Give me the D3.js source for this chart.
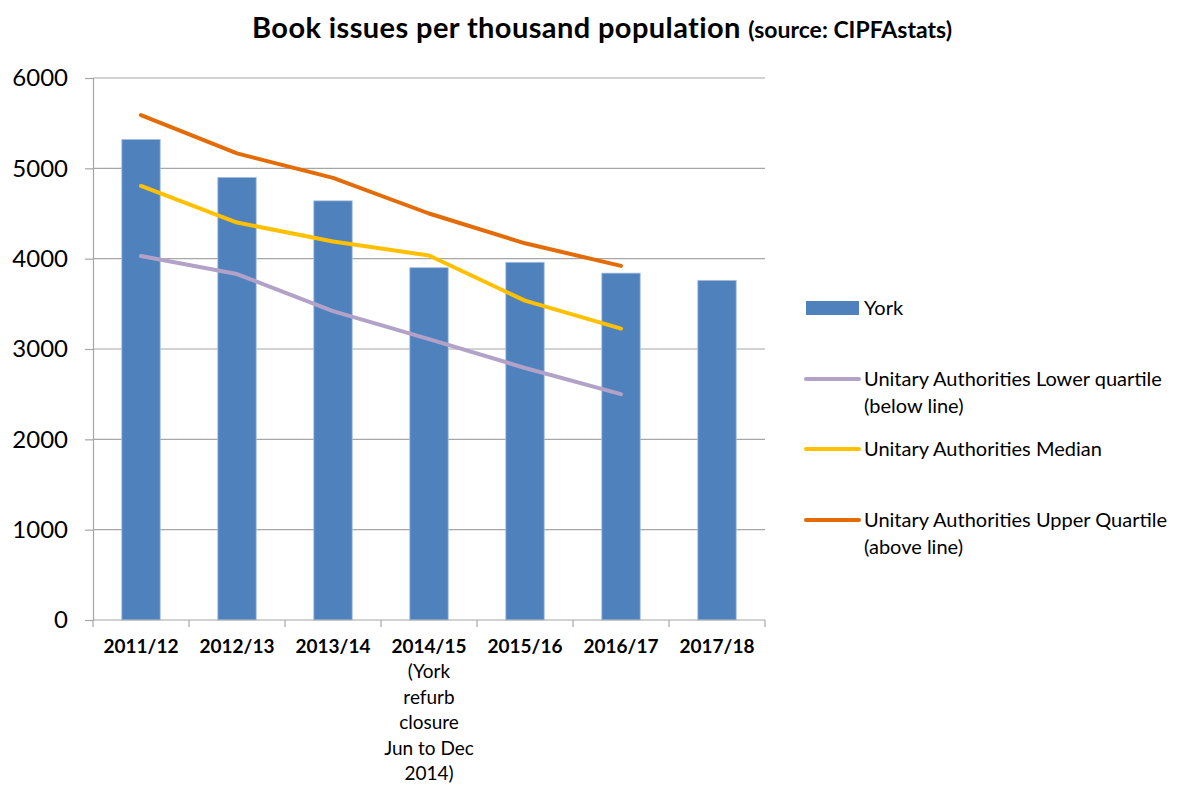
<!DOCTYPE html>
<html>
<head>
<meta charset="utf-8">
<script src="https://cdn.jsdelivr.net/npm/d3@7"></script>
<style>
  body { margin: 0; background: #fff; }
  svg { display: block; font-family: Lato, "Open Sans", sans-serif; }
</style>
</head>
<body>
<svg id="chart" width="1180" height="785"></svg>
<script>
const categories = ["2011/12", "2012/13", "2013/14", "2014/15", "2015/16", "2016/17", "2017/18"];
const catLabels = [
  ["2011/12"], ["2012/13"], ["2013/14"],
  ["2014/15", "(York", "refurb", "closure", "Jun to Dec", "2014)"],
  ["2015/16"], ["2016/17"], ["2017/18"]
];
const york = [5320, 4900, 4640, 3900, 3960, 3840, 3760];
const lowerQuartile = [4030, 3830, 3420, 3110, 2790, 2500];
const median = [4805, 4400, 4190, 4035, 3535, 3225];
const upperQuartile = [5590, 5165, 4895, 4500, 4170, 3920];
const yTicks = [0, 1000, 2000, 3000, 4000, 5000, 6000];

const svg = d3.select("#chart");
const margin = { left: 93, right: 765, top: 78, bottom: 620 };

const x = d3.scaleBand().domain(categories).range([margin.left, margin.right]);
const y = d3.scaleLinear().domain([0, 6000]).range([margin.bottom, margin.top]);

// title
const title = svg.append("text")
  .attr("x", 602).attr("y", 38)
  .attr("text-anchor", "middle")
  .style("font-weight", "bold");
title.append("tspan").text("Book issues per thousand population ").style("font-size", "29px").style("letter-spacing", "0.4px");
title.append("tspan").text("(source: CIPFAstats)").style("font-size", "23px");

// gridlines
svg.append("g")
  .selectAll("line")
  .data(yTicks.slice(1))
  .join("line")
  .attr("x1", margin.left).attr("x2", margin.right)
  .attr("y1", d => y(d)).attr("y2", d => y(d))
  .attr("stroke", "#a6a6a6").attr("stroke-width", 1.2);

// y axis
const yAxis = svg.append("g")
  .attr("transform", `translate(${margin.left},0)`)
  .call(d3.axisLeft(y).tickValues(yTicks).tickSize(8).tickPadding(17).tickFormat(d3.format("d")));
yAxis.selectAll("line, path").attr("stroke", "#a6a6a6").attr("stroke-width", 1.2);
yAxis.selectAll("text").style("font-size", "24px").style("font-family", "Lato, sans-serif").attr("fill", "#000");

// bars
const barW = x.bandwidth() * 0.4;
svg.append("g")
  .selectAll("rect")
  .data(york)
  .join("rect")
  .attr("x", (d, i) => x(categories[i]) + x.bandwidth() / 2 - barW / 2)
  .attr("y", d => y(d))
  .attr("width", barW)
  .attr("height", d => y(0) - y(d))
  .attr("fill", "#4f81bd")
  .attr("stroke", "#a8c0e0")
  .attr("stroke-width", 0.8);

// x axis
const xAxis = svg.append("g")
  .attr("transform", `translate(0,${margin.bottom})`);
xAxis.append("line")
  .attr("x1", margin.left).attr("x2", margin.right)
  .attr("stroke", "#a6a6a6").attr("stroke-width", 1.2);
xAxis.selectAll(".tk")
  .data(categories.map(c => x(c)).concat([margin.right]))
  .join("line")
  .attr("x1", d => d).attr("x2", d => d)
  .attr("y1", 0).attr("y2", 7)
  .attr("stroke", "#a6a6a6").attr("stroke-width", 1.2);
xAxis.selectAll(".lbl")
  .data(catLabels)
  .join("text")
  .attr("text-anchor", "middle")
  .style("font-size", "19px")
  .each(function (lines, i) {
    d3.select(this).selectAll("tspan")
      .data(lines)
      .join("tspan")
      .attr("x", x(categories[i]) + x.bandwidth() / 2)
      .attr("y", (d, j) => 33 + j * 25.4)
      .style("font-weight", (d, j) => j === 0 ? "bold" : "normal")
      .text(d => d);
  });

// lines
const line = d3.line()
  .x((d, i) => x(categories[i]) + x.bandwidth() / 2)
  .y(d => y(d));

const series = [
  { name: "lower", values: lowerQuartile, color: "#b3a2c7" },
  { name: "median", values: median, color: "#ffc000" },
  { name: "upper", values: upperQuartile, color: "#e36c09" }
];
svg.append("g")
  .selectAll("path")
  .data(series)
  .join("path")
  .attr("d", d => line(d.values))
  .attr("fill", "none")
  .attr("stroke", d => d.color)
  .attr("stroke-width", 4)
  .attr("stroke-linecap", "round")
  .attr("stroke-linejoin", "round");

// legend
const legend = svg.append("g").style("font-size", "20px");
legend.append("rect")
  .attr("x", 806).attr("y", 301).attr("width", 53).attr("height", 14)
  .attr("fill", "#4f81bd");
legend.append("text").attr("x", 864).attr("y", 315).text("York");

const legendItems = [
  { color: "#b3a2c7", y: 379, lines: ["Unitary Authorities Lower quartile", "(below line)"] },
  { color: "#ffc000", y: 449, lines: ["Unitary Authorities Median"] },
  { color: "#e36c09", y: 520, lines: ["Unitary Authorities Upper Quartile", "(above line)"] }
];
legendItems.forEach(item => {
  legend.append("line")
    .attr("x1", 806).attr("x2", 859)
    .attr("y1", item.y).attr("y2", item.y)
    .attr("stroke", item.color).attr("stroke-width", 4)
    .attr("stroke-linecap", "round");
  const t = legend.append("text");
  t.selectAll("tspan")
    .data(item.lines)
    .join("tspan")
    .attr("x", 864)
    .attr("y", (d, j) => item.y + 7 + j * 27)
    .text(d => d);
});
</script>
</body>
</html>
